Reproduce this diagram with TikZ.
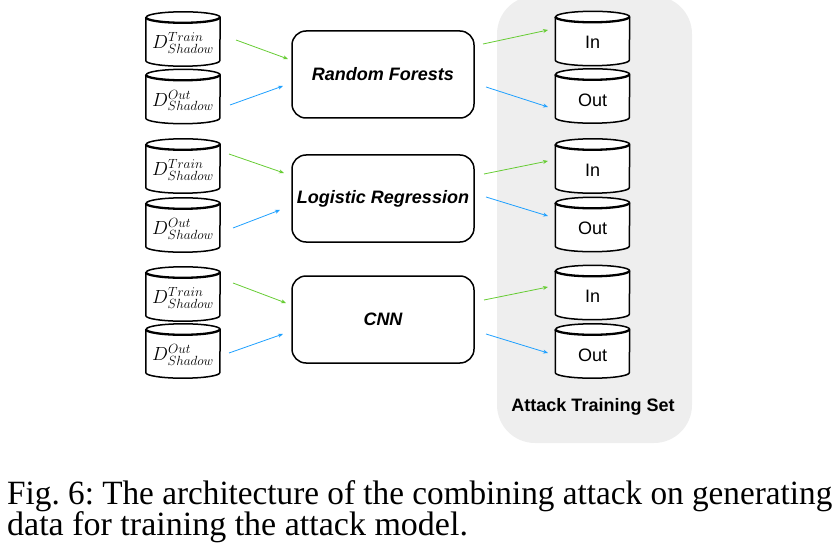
\RequirePackage{fix-cm}
\documentclass[tikz,border=0pt]{standalone}
\usepackage{fontspec}
\usepackage{graphicx}
\setmainfont{Liberation Serif}
\newfontfamily\sansf{Liberation Sans}
\usetikzlibrary{arrows.meta}
\definecolor{argreen}{RGB}{102,204,51}
\definecolor{arblue}{RGB}{30,160,255}
\definecolor{panelgray}{RGB}{238,238,238}
\frenchspacing
\begin{document}
\begin{tikzpicture}[x=1pt,y=-1pt,
  cylbox/.style={minimum width=74pt, minimum height=54pt, inner sep=0pt},
  cylline/.style={line width=1.5pt, fill=white, line join=round},
  cylfront/.style={line width=2.3pt},
  dlab/.style={inner sep=0pt, font=\fontsize{19}{22}\selectfont},
  setlab/.style={inner sep=0pt, font=\sansf\fontsize{18}{21}\selectfont},
  model/.style={draw, line width=1.5pt, rounded corners=14pt, minimum width=182pt, minimum height=87pt, inner sep=0pt, font=\sansf\bfseries\itshape\fontsize{18}{21}\selectfont},
  garr/.style={argreen, line width=0.8pt, -{Stealth[length=5pt,width=4pt]}},
  barr/.style={arblue, line width=0.8pt, -{Stealth[length=5pt,width=4pt]}},
  captext/.style={anchor=base west, inner sep=0pt, font=\fontsize{34}{31}\selectfont},
]
\useasboundingbox (0,0) rectangle (837,548);
% panel
\node[fill=panelgray, rounded corners=38pt, minimum width=195pt, minimum height=447pt, inner sep=0pt] (panel) at (594.5,219.5) {};
\node[inner sep=0pt, font=\sansf\bfseries\fontsize{18}{21}\selectfont] (paneltitle) at (593,407) {Attack Training Set};
% cylinders
\node[cylbox] (l1) at (183,39) {};
\node[cylbox] (l2) at (183,96.5) {};
\node[cylbox] (l3) at (183,166) {};
\node[cylbox] (l4) at (183,225) {};
\node[cylbox] (l5) at (183,294) {};
\node[cylbox] (l6) at (183,351) {};
\node[cylbox] (r1) at (592.5,38.5) {};
\node[cylbox] (r2) at (592.5,96) {};
\node[cylbox] (r3) at (592.5,166) {};
\node[cylbox] (r4) at (592.5,224.5) {};
\node[cylbox] (r5) at (592.5,292.5) {};
\node[cylbox] (r6) at (592.5,351) {};
\foreach \n in {l1,l2,l3,l4,l5,l6,r1,r2,r3,r4,r5,r6}{
  \draw[cylline] ([yshift=-5.5pt]\n.north west) -- ([yshift=5.5pt]\n.south west)
    arc[start angle=180,end angle=360,x radius=37pt,y radius=5.5pt]
    -- ([yshift=-5.5pt]\n.north east)
    arc[start angle=0,end angle=180,x radius=37pt,y radius=5.5pt] -- cycle;
  \draw[cylfront] ([yshift=-5.5pt]\n.north west)
    arc[start angle=180,end angle=360,x radius=37pt,y radius=5.5pt];
}
\node[dlab] (l1t) at ([yshift=-4pt]l1.center) {$D^{Train}_{Shadow}$};
\node[dlab] (l2t) at ([yshift=-4pt]l2.center) {$D^{Out}_{Shadow}$};
\node[dlab] (l3t) at ([yshift=-4pt]l3.center) {$D^{Train}_{Shadow}$};
\node[dlab] (l4t) at ([yshift=-4pt]l4.center) {$D^{Out}_{Shadow}$};
\node[dlab] (l5t) at ([yshift=-4pt]l5.center) {$D^{Train}_{Shadow}$};
\node[dlab] (l6t) at ([yshift=-4pt]l6.center) {$D^{Out}_{Shadow}$};
\node[setlab] (r1t) at ([yshift=-4pt]r1.center) {In};
\node[setlab] (r2t) at ([yshift=-4pt]r2.center) {Out};
\node[setlab] (r3t) at ([yshift=-4pt]r3.center) {In};
\node[setlab] (r4t) at ([yshift=-4pt]r4.center) {Out};
\node[setlab] (r5t) at ([yshift=-4pt]r5.center) {In};
\node[setlab] (r6t) at ([yshift=-4pt]r6.center) {Out};
% models
\node[model] (rf) at (383,74.5) {Random Forests};
\node[model] (lr) at (383,198.5) {Logistic Regression};
\node[model] (cnn) at (383,319.5) {CNN};
% arrow end points
\coordinate (a1s) at (236,40);  \coordinate (a1e) at (288,59);
\coordinate (a2s) at (230,105); \coordinate (a2e) at (283,86);
\coordinate (a3s) at (229,154); \coordinate (a3e) at (284,173);
\coordinate (a4s) at (233,228); \coordinate (a4e) at (280,210);
\coordinate (a5s) at (233,283); \coordinate (a5e) at (286,303);
\coordinate (a6s) at (229,353); \coordinate (a6e) at (283,334);
\coordinate (b1s) at (483,44);  \coordinate (b1e) at (548,30);
\coordinate (b2s) at (486,87);  \coordinate (b2e) at (548,107);
\coordinate (b3s) at (484,174); \coordinate (b3e) at (548,161);
\coordinate (b4s) at (486,197); \coordinate (b4e) at (548,216);
\coordinate (b5s) at (484,300); \coordinate (b5e) at (548,287);
\coordinate (b6s) at (486,334); \coordinate (b6e) at (548,353);
\draw[garr] (a1s) -- (a1e);
\draw[barr] (a2s) -- (a2e);
\draw[garr] (a3s) -- (a3e);
\draw[barr] (a4s) -- (a4e);
\draw[garr] (a5s) -- (a5e);
\draw[barr] (a6s) -- (a6e);
\draw[garr] (b1s) -- (b1e);
\draw[barr] (b2s) -- (b2e);
\draw[garr] (b3s) -- (b3e);
\draw[barr] (b4s) -- (b4e);
\draw[garr] (b5s) -- (b5e);
\draw[barr] (b6s) -- (b6e);
% caption
\node[captext] (cap1) at (7,504) {\resizebox{825pt}{\height}{Fig. 6: The architecture of the combining attack on generating}};
\node[captext] (cap2) at (7,535) {data for training the attack model.};
\end{tikzpicture}
\end{document}
